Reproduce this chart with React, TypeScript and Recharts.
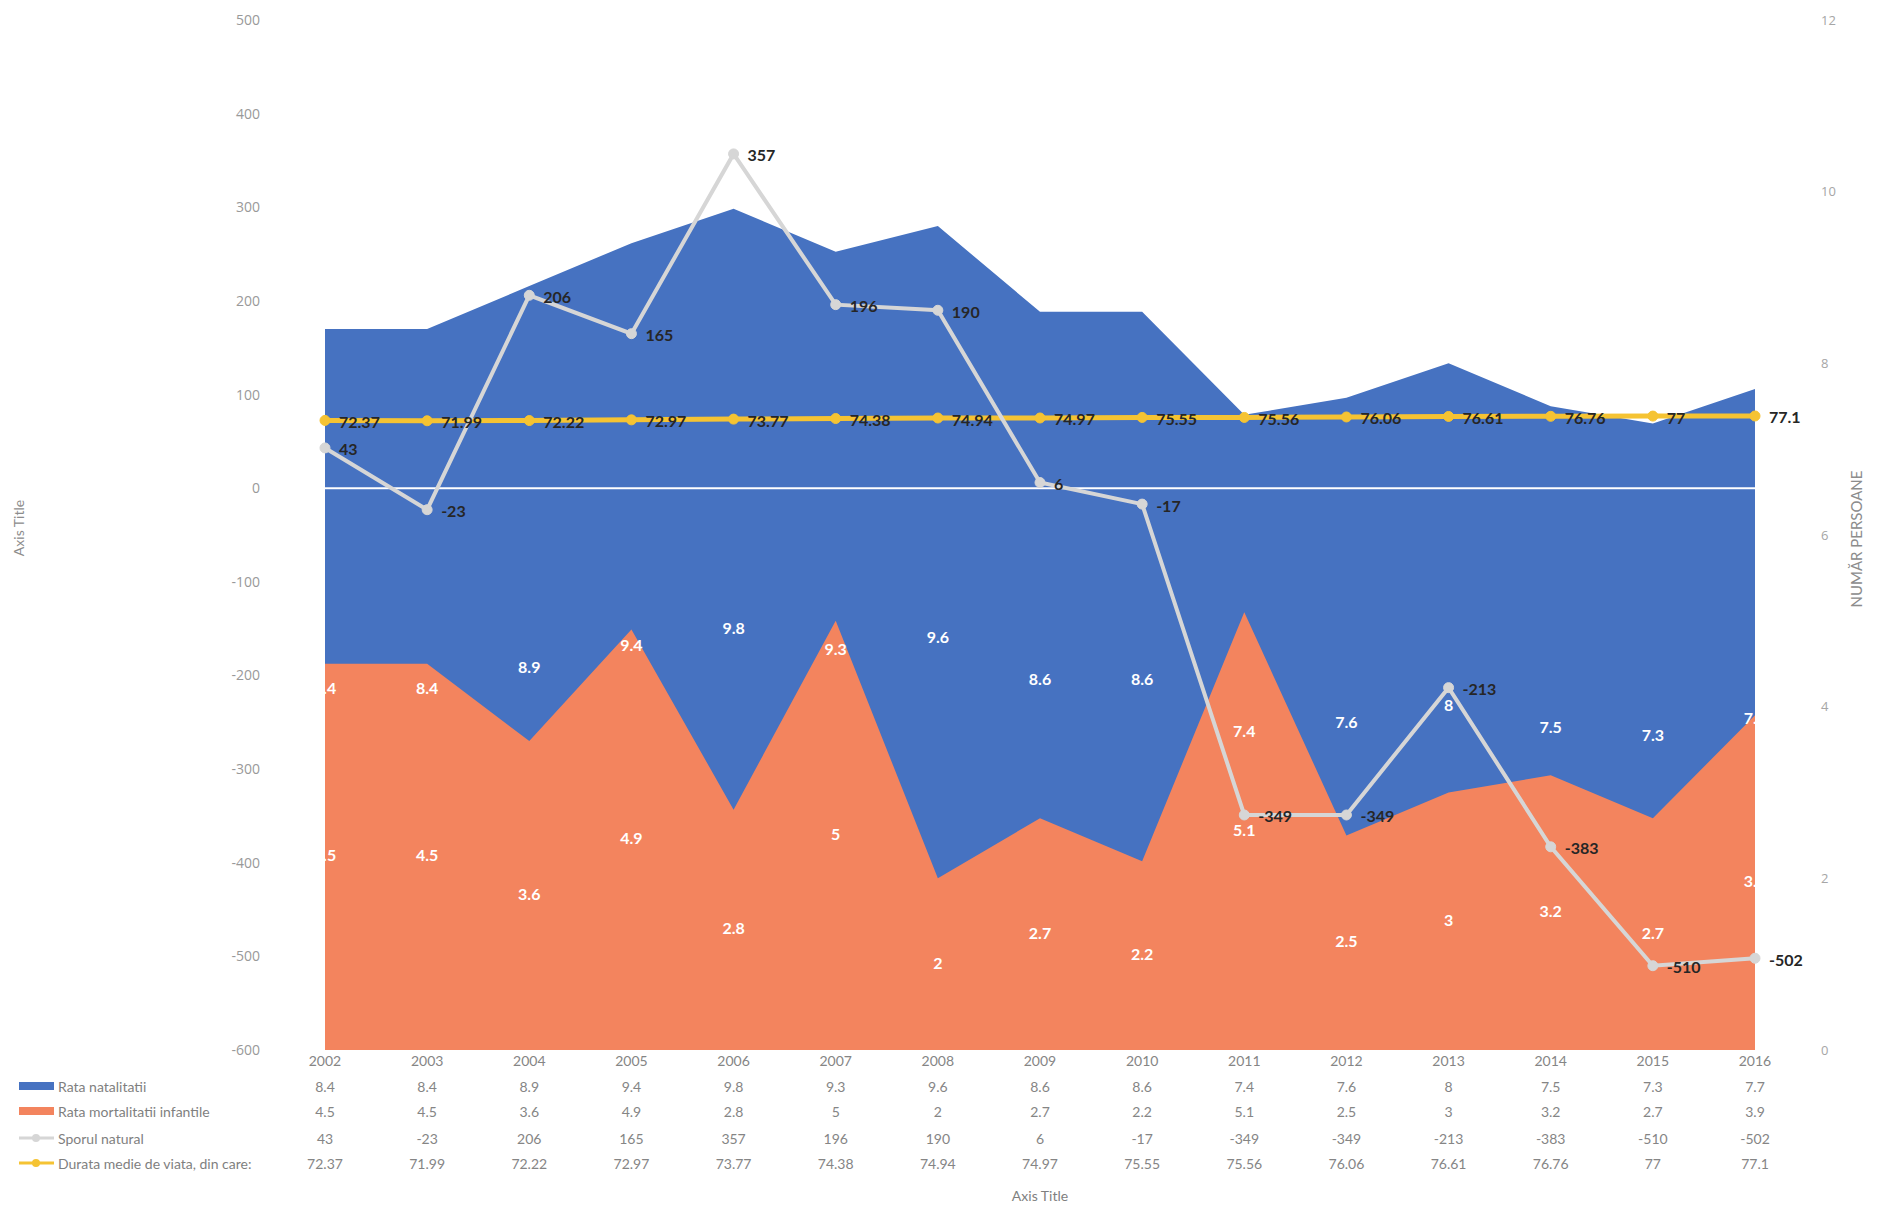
import React from 'react';
import { ComposedChart, Area, Line, XAxis, YAxis, ReferenceLine, LabelList } from 'recharts';

const years = ['2002', '2003', '2004', '2005', '2006', '2007', '2008', '2009', '2010', '2011', '2012', '2013', '2014', '2015', '2016'];
const rataNatalitatii = [8.4, 8.4, 8.9, 9.4, 9.8, 9.3, 9.6, 8.6, 8.6, 7.4, 7.6, 8, 7.5, 7.3, 7.7];
const rataMortalitatii = [4.5, 4.5, 3.6, 4.9, 2.8, 5, 2, 2.7, 2.2, 5.1, 2.5, 3, 3.2, 2.7, 3.9];
const sporulNatural = [43, -23, 206, 165, 357, 196, 190, 6, -17, -349, -349, -213, -383, -510, -502];
const durataMedie = [72.37, 71.99, 72.22, 72.97, 73.77, 74.38, 74.94, 74.97, 75.55, 75.56, 76.06, 76.61, 76.76, 77, 77.1];

const leftTicks = [-600, -500, -400, -300, -200, -100, 0, 100, 200, 300, 400, 500];
const rightTicks = [0, 2, 4, 6, 8, 10, 12];

const seriesNames = [
  'Rata natalitatii',
  'Rata mortalitatii infantile',
  'Sporul natural',
  'Durata medie de viata, din care:',
];

const COLORS = {
  natalitate: '#4672c1',
  mortalitate: '#f3845e',
  spor: '#d6d6d6',
  durata: '#f5c333',
};

// layout
const W = 1878;
const H = 1206;
const PLOT_BOTTOM = 1050;
const X_AXIS_H = H - PLOT_BOTTOM;
const Y_AXIS_W = 70;

const data = years.map((year, i) => ({
  year,
  natalitate: rataNatalitatii[i],
  mortalitate: rataMortalitatii[i],
  spor: sporulNatural[i],
  durata: durataMedie[i],
}));

const tableRows = [years, rataNatalitatii, rataMortalitatii, sporulNatural, durataMedie];
const rowOffsets = [10, 36, 61, 88, 113];

const TableTick = (props: any) => {
  const { x, y, payload } = props;
  const i = payload.index ?? years.indexOf(payload.value);
  return (
    <g>
      {tableRows.map((row, k) => (
        <text
          key={k}
          x={x}
          y={y + rowOffsets[k]}
          textAnchor="middle"
          dominantBaseline="central"
          fontFamily="Lato"
          fontSize={14}
          fill="#858585"
        >
          {String(row[i])}
        </text>
      ))}
    </g>
  );
};

const pos = (props: any) => {
  const vb = props.viewBox || {};
  return { x: props.x ?? vb.x, y: props.y ?? vb.y };
};

// area labels sit halfway between the value and the bottom of the plot
const AreaLabel = (props: any) => {
  const { x, y } = pos(props);
  if (x == null || y == null) return null;
  return (
    <text
      x={x}
      y={(y + PLOT_BOTTOM) / 2 - 2}
      textAnchor="middle"
      dominantBaseline="central"
      fontFamily="Lato"
      fontWeight="bold"
      fontSize={16}
      fill="#ffffff"
    >
      {props.value}
    </text>
  );
};

const LineLabel = (props: any) => {
  const { x, y } = pos(props);
  if (x == null || y == null) return null;
  return (
    <text
      x={x + 14}
      y={y + 1}
      textAnchor="start"
      dominantBaseline="central"
      fontFamily="Lato"
      fontWeight="bold"
      fontSize={16}
      fill="#262626"
    >
      {props.value}
    </text>
  );
};

const legendY = [1086, 1111, 1138, 1163];

const Overlay = () => (
  <svg width={W} height={H} style={{ position: 'absolute', left: 0, top: 0, pointerEvents: 'none' }}>
    <rect x={19} y={legendY[0] - 4} width={35} height={8} fill={COLORS.natalitate} />
    <rect x={19} y={legendY[1] - 4} width={35} height={8} fill={COLORS.mortalitate} />
    <line x1={19} x2={54} y1={legendY[2]} y2={legendY[2]} stroke={COLORS.spor} strokeWidth={3} />
    <circle cx={36} cy={legendY[2]} r={4} fill={COLORS.spor} />
    <line x1={19} x2={54} y1={legendY[3]} y2={legendY[3]} stroke={COLORS.durata} strokeWidth={3} />
    <circle cx={36} cy={legendY[3]} r={4} fill={COLORS.durata} />
    {seriesNames.map((name, k) => (
      <text key={name} x={58} y={legendY[k]} dominantBaseline="central" fontFamily="Lato" fontSize={14} fill="#7f7f7f">
        {name}
      </text>
    ))}
    <text
      x={18}
      y={528}
      transform="rotate(-90 18 528)"
      textAnchor="middle"
      dominantBaseline="central"
      fontFamily="Lato"
      fontSize={14}
      fill="#8c8c8c"
    >
      Axis Title
    </text>
    <text
      x={1856}
      y={539}
      transform="rotate(-90 1856 539)"
      textAnchor="middle"
      dominantBaseline="central"
      fontFamily="Lato"
      fontSize={15}
      fill="#8c8c8c"
    >
      NUMĂR PERSOANE
    </text>
    <text x={1040} y={1195} textAnchor="middle" dominantBaseline="central" fontFamily="Lato" fontSize={14} fill="#7f7f7f">
      Axis Title
    </text>
  </svg>
);

export default function App() {
  return (
    <div style={{ position: 'absolute', left: 0, top: 0, width: W, height: H, background: '#ffffff' }}>
      <ComposedChart
        width={W}
        height={H}
        data={data}
        margin={{ top: 20, right: 53, bottom: 0, left: 255 }}
      >
        <XAxis
          dataKey="year"
          scale="point"
          padding={{ left: 0, right: 0 }}
          height={X_AXIS_H}
          axisLine={false}
          tickLine={false}
          tickSize={0}
          tickMargin={0}
          interval={0}
          tick={<TableTick />}
        />
        <YAxis
          yAxisId="left"
          orientation="left"
          width={Y_AXIS_W}
          domain={[-600, 500]}
          ticks={leftTicks}
          interval={0}
          axisLine={false}
          tickLine={false}
          tickSize={0}
          tickMargin={65}
          tick={{ fontFamily: 'Open Sans', fontSize: 14, fill: '#999999' }}
        />
        <YAxis
          yAxisId="right"
          orientation="right"
          width={Y_AXIS_W}
          domain={[0, 12]}
          ticks={rightTicks}
          interval={0}
          axisLine={false}
          tickLine={false}
          tickSize={0}
          tickMargin={66}
          tick={{ fontFamily: 'Open Sans', fontSize: 13, fill: '#a6a6a6' }}
        />
        <Area
          yAxisId="right"
          type="linear"
          dataKey="natalitate"
          name={seriesNames[0]}
          fill={COLORS.natalitate}
          fillOpacity={1}
          stroke="none"
          isAnimationActive={false}
        >
          <LabelList dataKey="natalitate" content={<AreaLabel />} />
        </Area>
        <Area
          yAxisId="right"
          type="linear"
          dataKey="mortalitate"
          name={seriesNames[1]}
          fill={COLORS.mortalitate}
          fillOpacity={1}
          stroke="none"
          isAnimationActive={false}
        >
          <LabelList dataKey="mortalitate" content={<AreaLabel />} />
        </Area>
        <ReferenceLine yAxisId="left" y={0} stroke="#ffffff" strokeWidth={2} />
        <Line
          yAxisId="left"
          type="linear"
          dataKey="durata"
          name={seriesNames[3]}
          stroke={COLORS.durata}
          strokeWidth={5}
          dot={{ r: 5, fill: COLORS.durata, stroke: COLORS.durata, strokeWidth: 1 }}
          isAnimationActive={false}
        >
          <LabelList dataKey="durata" content={<LineLabel />} />
        </Line>
        <Line
          yAxisId="left"
          type="linear"
          dataKey="spor"
          name={seriesNames[2]}
          stroke={COLORS.spor}
          strokeWidth={4}
          dot={{ r: 5, fill: COLORS.spor, stroke: COLORS.spor, strokeWidth: 1 }}
          isAnimationActive={false}
        >
          <LabelList dataKey="spor" content={<LineLabel />} />
        </Line>
      </ComposedChart>
      <Overlay />
    </div>
  );
}
